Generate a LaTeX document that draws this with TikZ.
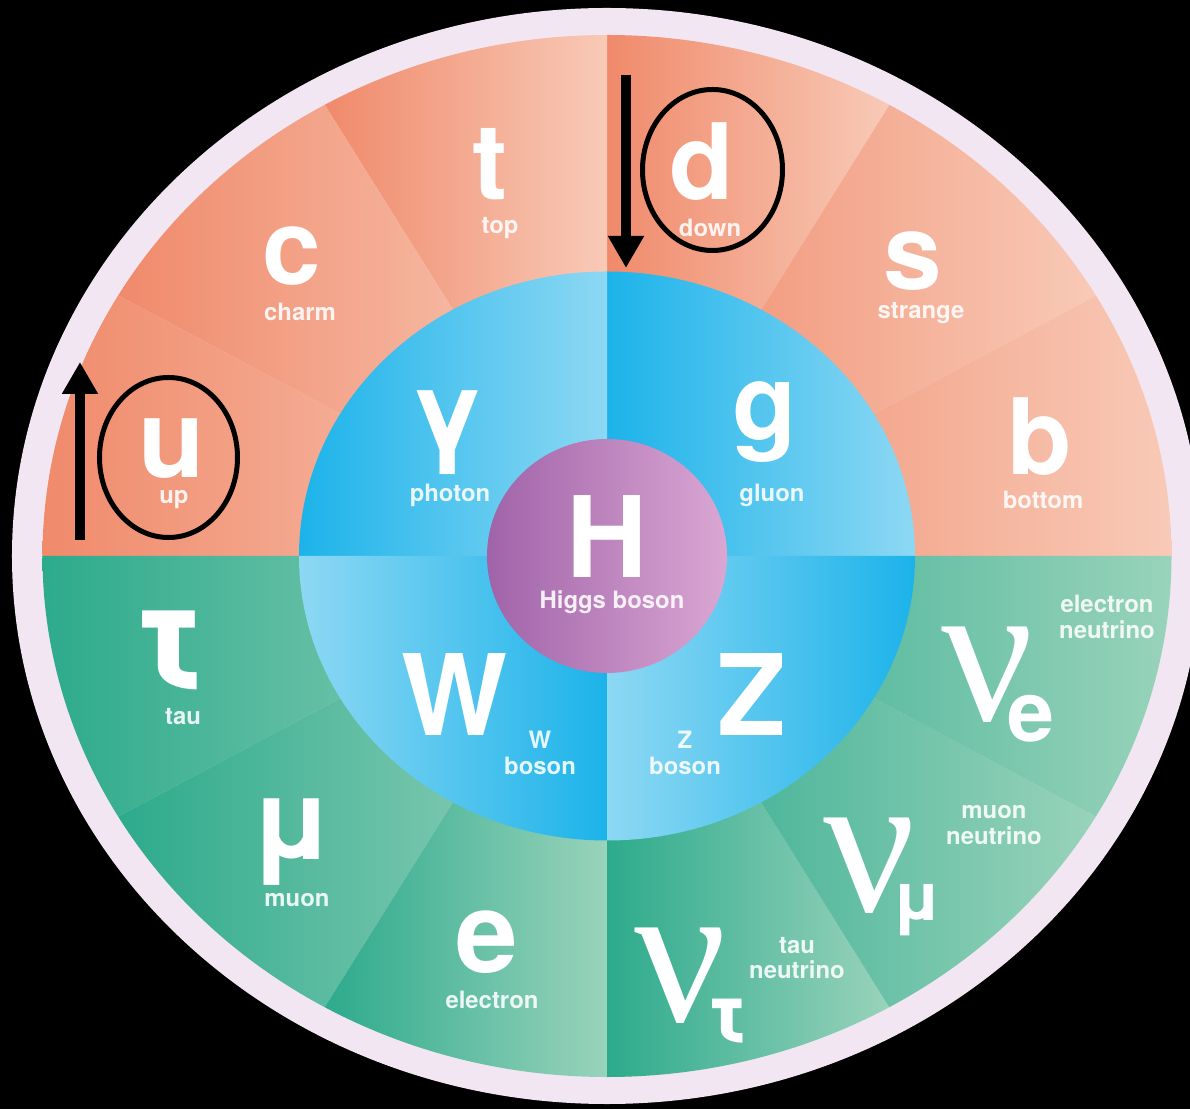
\documentclass[tikz,border=0pt]{standalone}
\usepackage{fontspec}
\setmainfont{TeX Gyre Heros}
\newfontfamily\nufont{Liberation Serif}
\usetikzlibrary{arrows.meta, shapes.geometric}
\definecolor{quarkdark}{HTML}{F08A6B}
\definecolor{quarklight}{HTML}{F8CAB7}
\definecolor{leptondark}{HTML}{2DAA8C}
\definecolor{leptonlight}{HTML}{99D3BB}
\definecolor{bosondark}{HTML}{1CB3EA}
\definecolor{bosonlight}{HTML}{8DD8F3}
\definecolor{higgsdark}{HTML}{A063A9}
\definecolor{higgslight}{HTML}{DAA7D3}
\definecolor{rim}{HTML}{F2E6F3}

\begin{document}
\begin{tikzpicture}[
    sym/.style = {text = white, inner sep = 0pt, anchor = base, text depth = 0pt,
                  font = \bfseries\fontsize{30}{30}\selectfont},
    partname/.style = {text = white, text opacity = .88, inner sep = 0pt, align = center,
                       font = \bfseries\fontsize{6.8}{7.3}\selectfont},
    nu/.style = {text = white, inner sep = 0pt, anchor = base,
                 font = \nufont\fontsize{58}{58}\selectfont},
    sub/.style = {text = white, inner sep = 0pt, anchor = base,
                  font = \bfseries\fontsize{24}{24}\selectfont},
    hint/.style = {line width = .1cm, -{Triangle[width = .34cm, length = .32cm]}},
    circled/.style = {draw, ellipse, line width = .05cm, inner sep = 0pt}]
  \fill [black] (-6.07,-5.53) rectangle (5.83,5.56);
  \useasboundingbox (-6.07,-5.53) rectangle (5.83,5.56);
  \fill [rim] (0,0) ellipse (5.95 and 5.48);
  \foreach \a in {0, 30, ..., 150}
    \shade [left color = quarkdark, right color = quarklight]
      (0,0) -- (\a:5.645 and 5.21)
      arc [start angle = \a, delta angle = 30, x radius = 5.645, y radius = 5.21] -- cycle;
  \foreach \a in {180, 210, ..., 330}
    \shade [left color = leptondark, right color = leptonlight]
      (0,0) -- (\a:5.645 and 5.21)
      arc [start angle = \a, delta angle = 30, x radius = 5.645, y radius = 5.21] -- cycle;
  \foreach \a in {0, 90}
    \shade [left color = bosondark, right color = bosonlight]
      (0,0) -- (\a:3.08 and 2.845)
      arc [start angle = \a, delta angle = 90, x radius = 3.08, y radius = 2.845] -- cycle;
  \foreach \a in {180, 270}
    \shade [left color = bosonlight, right color = bosondark]
      (0,0) -- (\a:3.08 and 2.845)
      arc [start angle = \a, delta angle = 90, x radius = 3.08, y radius = 2.845] -- cycle;
  \shade [left color = higgsdark, right color = higgslight] (0,0) ellipse (1.2 and 1.17);

  \node [sym, font = \bfseries\fontsize{31}{31}\selectfont] (u) at (-4.35,.78) {u};
  \node [partname] (up) at (-4.33,.56) {up};
  \node [sym] (c) at (-3.15,2.71) {c};
  \node [partname] (charm) at (-3.07,2.44) {charm};
  \node [sym] (t) at (-1.17,3.56) {t};
  \node [partname] (top) at (-1.07,3.28) {top};
  \node [sym] (d) at (.95,3.56) {d};
  \node [partname] (down) at (1.03,3.28) {down};
  \node [sym] (s) at (3.06,2.66) {s};
  \node [partname] (strange) at (3.14,2.43) {strange};
  \node [sym] (b) at (4.33,.81) {b};
  \node [partname] (bottom) at (4.36,.56) {bottom};

  \node [sym, anchor = center, font = \bfseries\fontsize{31}{31}\selectfont] (gamma) at (-1.59,1.36) {γ};
  \node [partname] (photon) at (-1.57,.61) {photon};
  \node [sym] (g) at (1.58,1.16) {g};
  \node [partname] (gluon) at (1.65,.61) {gluon};
  \node [sym, font = \bfseries\fontsize{32}{32}\selectfont] (H) at (0,-.22) {H};
  \node [partname] (higgs) at (.05,-.46) {Higgs boson};
  \node [sym, font = \bfseries\fontsize{32}{32}\selectfont] (W) at (-1.52,-1.79) {W};
  \node [partname] (wboson) at (-.67,-1.97) {W\\boson};
  \node [sym, font = \bfseries\fontsize{32}{32}\selectfont] (Z) at (1.45,-1.79) {Z};
  \node [partname] (zboson) at (.78,-1.97) {Z\\boson};

  \node [sym, font = \bfseries\fontsize{43}{43}\selectfont] (tau) at (-4.37,-1.35) {τ};
  \node [partname] (tauname) at (-4.24,-1.61) {tau};
  \node [sym, font = \bfseries\fontsize{32}{32}\selectfont] (mu) at (-3.15,-3.03) {μ};
  \node [partname] (muon) at (-3.10,-3.44) {muon};
  \node [sym, font = \bfseries\fontsize{32}{32}\selectfont] (e) at (-1.20,-4.16) {e};
  \node [partname] (electron) at (-1.15,-4.44) {electron};
  \node [nu] (nutau) at (.74,-4.65) {ν};
  \node [sub] (nutausub) at (1.21,-4.87) {τ};
  \node [partname] (nutauname) at (1.90,-4.02) {tau\\neutrino};
  \node [nu] (numu) at (2.63,-3.55) {ν};
  \node [sub, font = \bfseries\fontsize{19}{19}\selectfont] (numusub) at (3.10,-3.64) {μ};
  \node [partname] (numuname) at (3.87,-2.69) {muon\\neutrino};
  \node [nu] (nue) at (3.81,-1.64) {ν};
  \node [sub] (nuesub) at (4.24,-1.85) {e};
  \node [partname] (nuename) at (5.00,-.61) {electron\\neutrino};

  \node [circled, minimum width = 1.38cm, minimum height = 1.6cm] (u ring) at (-4.385,.985) {};
  \node [circled, minimum width = 1.4cm, minimum height = 1.61cm] (d ring) at (1.055,3.86) {};
  \coordinate (u tail) at (-5.27,.16);
  \coordinate (u tip) at (-5.27,1.94);
  \coordinate (d tail) at (.19,4.81);
  \coordinate (d tip) at (.19,2.88);
  \draw [hint] (u tail) -- (u tip);
  \draw [hint] (d tail) -- (d tip);
\end{tikzpicture}
\end{document}
